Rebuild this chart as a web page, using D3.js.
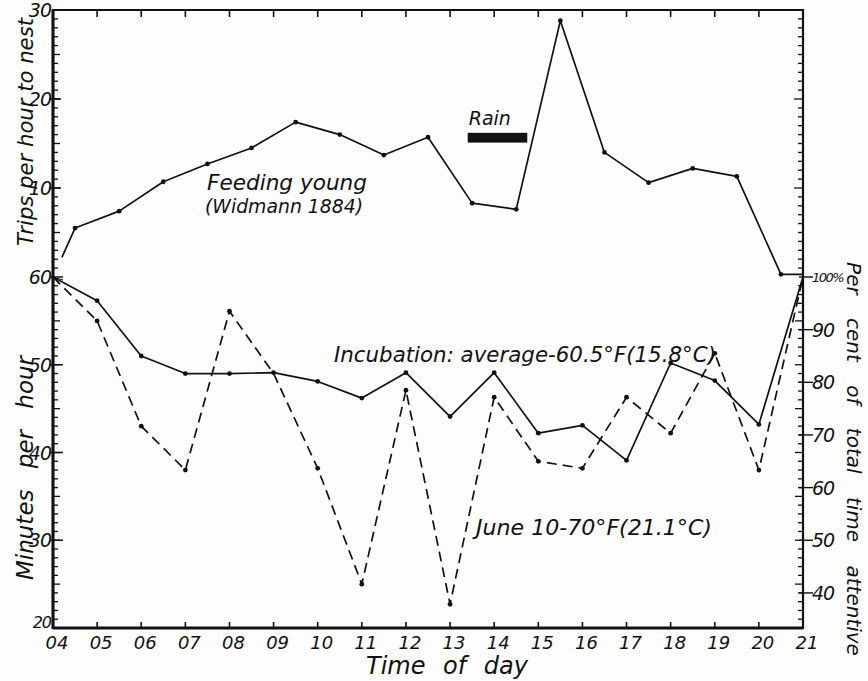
<!DOCTYPE html>
<html>
<head>
<meta charset="utf-8">
<script src="https://cdn.jsdelivr.net/npm/d3@7"></script>
<style>
  html, body { margin: 0; padding: 0; background: #fdfdfd; }
  svg { display: block; }
  text { font-family: "DejaVu Sans", sans-serif; font-style: italic; fill: #111; }
</style>
</head>
<body>
<svg id="chart" width="868" height="681"></svg>
<script>
// Hour of day for the x axis
const hourTicks = [4,5,6,7,8,9,10,11,12,13,14,15,16,17,18,19,20,21];
const hourLabels = ["04","05","06","07","08","09","10","11","12","13","14","15","16","17","18","19","20","21"];

// Feeding young (Widmann 1884): trips per hour, at half-hour midpoints
const feedHours = [4.2, 4.5, 5.5, 6.5, 7.5, 8.5, 9.5, 10.5, 11.5, 12.5, 13.5, 14.5, 15.5, 16.5, 17.5, 18.5, 19.5, 20.5, 21];
const feedTrips = [2.2, 5.5, 7.4, 10.7, 12.7, 14.5, 17.4, 16.0, 13.7, 15.7, 8.3, 7.6, 28.8, 14.0, 10.6, 12.2, 11.3, 0.3, 0.3];
const feedDot   = [false, true, true, true, true, true, true, true, true, true, true, true, true, true, true, true, true, true, false];

// Incubation: minutes per hour on the nest
const incHours   = [4,5,6,7,8,9,10,11,12,13,14,15,16,17,18,19,20,21];
const incAverage = [60, 57.3, 51.0, 49.0, 49.0, 49.1, 48.1, 46.2, 49.1, 44.1, 49.1, 42.2, 43.1, 39.1, 50.2, 48.2, 43.2, 60];
const incJune10  = [60, 55.0, 43.0, 38.0, 56.1, 49.0, 38.2, 25.0, 47.1, 22.7, 46.3, 39.0, 38.2, 46.3, 42.2, 51.3, 38.0, 60];

// Axis tick values
const tripTicks = [10, 20, 30];
const minuteTicks = [20, 30, 40, 50, 60];
const pctTicks = [40, 50, 60, 70, 80, 90, 100];
const pctLabels = ["40", "50", "60", "70", "80", "90", "100%"];

// Rain period (hours)
const rainSpan = [13.4, 14.75];

const svg = d3.select("#chart");
const L = 53, R = 803, T = 10, B = 628, MID = 277;

const x = d3.scaleLinear().domain([4, 21]).range([L, R]);
const yTrips = d3.scaleLinear().domain([0, 30]).range([MID, T]);
const yMin = d3.scaleLinear().domain([20, 60]).range([B, MID]);
const yPct = d3.scaleLinear().domain([100 / 3, 100]).range([B, MID]);

const ink = "#111";

// ---- Minor ticks ----
const g = svg.append("g").attr("stroke", ink).attr("fill", "none");

// top edge: hourly ticks pointing down
g.selectAll(".tt").data(hourTicks.slice(1, -1)).join("line")
  .attr("x1", d => x(d)).attr("x2", d => x(d)).attr("y1", T).attr("y2", T + 7).attr("stroke-width", 1.6);
// bottom edge: hourly ticks pointing up
g.selectAll(".bt").data(hourTicks.slice(1, -1)).join("line")
  .attr("x1", d => x(d)).attr("x2", d => x(d)).attr("y1", B).attr("y2", B - 6).attr("stroke-width", 1.6);

// trip ticks (upper panel), both side edges
const tripMinor = d3.range(1, 30);
g.selectAll(".lt").data(tripMinor).join("line")
  .attr("x1", L).attr("x2", d => L + (d % 5 === 0 ? 7 : 5))
  .attr("y1", d => yTrips(d)).attr("y2", d => yTrips(d)).attr("stroke-width", 1.3);
g.selectAll(".rt").data(tripMinor).join("line")
  .attr("x1", R).attr("x2", d => R - (d % 10 === 0 ? 9 : 5))
  .attr("y1", d => yTrips(d)).attr("y2", d => yTrips(d)).attr("stroke-width", 1.3);

// minute ticks (lower panel), both side edges
const minMinor = d3.range(21, 60);
g.selectAll(".lm").data(minMinor).join("line")
  .attr("x1", L).attr("x2", d => L + (d % 5 === 0 ? 7 : 5))
  .attr("y1", d => yMin(d)).attr("y2", d => yMin(d)).attr("stroke-width", 1.3);
g.selectAll(".rm").data(minMinor).join("line")
  .attr("x1", R).attr("x2", d => R - (d % 5 === 0 ? 8 : 5))
  .attr("y1", d => yMin(d)).attr("y2", d => yMin(d)).attr("stroke-width", 1.3);

// labelled ticks: outward stubs
g.selectAll(".ltm").data(tripTicks.slice(0, 2)).join("line")
  .attr("x1", L - 4).attr("x2", L + 8).attr("y1", d => yTrips(d)).attr("y2", d => yTrips(d)).attr("stroke-width", 1.5);
g.selectAll(".lmm").data(minuteTicks.slice(1)).join("line")
  .attr("x1", L - 3).attr("x2", L + 10).attr("y1", d => yMin(d)).attr("y2", d => yMin(d)).attr("stroke-width", 1.5);
g.selectAll(".rpm").data(pctTicks).join("line")
  .attr("x1", R - 4).attr("x2", R + 10).attr("y1", d => yPct(d)).attr("y2", d => yPct(d)).attr("stroke-width", 1.4);

// ---- Frame ----
svg.append("path")
  .attr("d", `M${L},${T}H${R}V${B}H${L}Z`)
  .attr("fill", "none").attr("stroke", ink).attr("stroke-width", 2.2);
svg.append("line").attr("x1", L).attr("x2", L).attr("y1", T).attr("y2", B + 1)
  .attr("stroke", ink).attr("stroke-width", 3);
svg.append("line").attr("x1", L).attr("x2", R).attr("y1", B).attr("y2", B)
  .attr("stroke", ink).attr("stroke-width", 3);

// ---- Lines ----
const feedPts = feedHours.map((h, i) => ({ h, v: feedTrips[i], dot: feedDot[i] }));
const avgPts = incHours.map((h, i) => ({ h, v: incAverage[i], dot: i > 0 && i < incHours.length - 1 }));
const junePts = incHours.map((h, i) => ({ h, v: incJune10[i], dot: i > 0 && i < incHours.length - 1 && h !== 9 }));

const lineTrips = d3.line().x(d => x(d.h)).y(d => yTrips(d.v));
const lineMin = d3.line().x(d => x(d.h)).y(d => yMin(d.v));

svg.append("path").datum(feedPts).attr("d", lineTrips)
  .attr("fill", "none").attr("stroke", ink).attr("stroke-width", 1.7).attr("stroke-linejoin", "round");
svg.append("path").datum(junePts).attr("d", lineMin)
  .attr("fill", "none").attr("stroke", ink).attr("stroke-width", 1.7).attr("stroke-dasharray", "10,6");
svg.append("path").datum(avgPts).attr("d", lineMin)
  .attr("fill", "none").attr("stroke", ink).attr("stroke-width", 1.7).attr("stroke-linejoin", "round");

svg.append("g").selectAll("circle").data(feedPts.filter(d => d.dot)).join("circle")
  .attr("cx", d => x(d.h)).attr("cy", d => yTrips(d.v)).attr("r", 2.4).attr("fill", ink);
svg.append("g").selectAll("circle").data(avgPts.filter(d => d.dot)).join("circle")
  .attr("cx", d => x(d.h)).attr("cy", d => yMin(d.v)).attr("r", 2.4).attr("fill", ink);
svg.append("g").selectAll("circle").data(junePts.filter(d => d.dot)).join("circle")
  .attr("cx", d => x(d.h)).attr("cy", d => yMin(d.v)).attr("r", 2.4).attr("fill", ink);

// small arrowhead where both incubation curves start at 60
svg.append("path")
  .attr("d", `M${x(4) + 2},${yMin(60) + 1}l8,2M${x(4) + 2},${yMin(60) + 1}l4,6`)
  .attr("fill", "none").attr("stroke", ink).attr("stroke-width", 1.2);

// Rain bar
svg.append("rect")
  .attr("x", x(rainSpan[0])).attr("width", x(rainSpan[1]) - x(rainSpan[0]))
  .attr("y", yTrips(16.2)).attr("height", yTrips(15.1) - yTrips(16.2))
  .attr("fill", "#111");
svg.append("text").attr("x", x(rainSpan[0]) + 1).attr("y", 125)
  .attr("font-size", 19).text("Rain");

// ---- Tick labels ----
const fs = 19;
svg.append("g").selectAll("text").data(hourTicks).join("text")
  .attr("x", d => x(d) + 4).attr("y", 649).attr("text-anchor", "middle")
  .attr("font-size", 18).text((d, i) => hourLabels[i]);

svg.append("g").selectAll("text").data(tripTicks).join("text")
  .attr("x", L - 2).attr("y", d => yTrips(d) + 7).attr("text-anchor", "end")
  .attr("font-size", fs).attr("letter-spacing", -1).text(d => d);

svg.append("g").selectAll("text").data(minuteTicks).join("text")
  .attr("x", L - 2).attr("y", d => yMin(d) + (d === 20 ? 0 : 7)).attr("text-anchor", "end")
  .attr("font-size", d => d === 20 ? 16 : fs).attr("letter-spacing", -1).text(d => d);

svg.append("g").selectAll("text").data(pctTicks).join("text")
  .attr("x", R + 9).attr("y", d => yPct(d) + (d === 100 ? 5 : 7))
  .attr("font-size", d => d === 100 ? 13 : fs).attr("letter-spacing", d => d === 100 ? -1.5 : -1)
  .text((d, i) => pctLabels[i]);

// ---- Axis titles ----
svg.append("text").attr("transform", "translate(33,132) rotate(-90)")
  .attr("text-anchor", "middle").attr("font-size", 22)
  .attr("textLength", 228).attr("lengthAdjust", "spacingAndGlyphs")
  .text("Trips per hour to nest");
svg.append("text").attr("transform", "translate(33,468) rotate(-90)")
  .attr("text-anchor", "middle").attr("font-size", 23)
  .style("word-spacing", "14px")
  .text("Minutes per hour");
svg.append("text").attr("transform", "translate(847,459) rotate(90)")
  .attr("text-anchor", "middle").attr("font-size", 20)
  .style("word-spacing", "17px")
  .text("Per cent of total time attentive");
svg.append("text").attr("x", 447).attr("y", 674)
  .attr("text-anchor", "middle").attr("font-size", 24)
  .style("word-spacing", "10px")
  .text("Time of day");

// ---- Series labels ----
svg.append("text").attr("x", 207).attr("y", 190).attr("font-size", 22)
  .attr("textLength", 160).attr("lengthAdjust", "spacingAndGlyphs").text("Feeding young");
svg.append("text").attr("x", 205).attr("y", 213).attr("font-size", 20)
  .attr("textLength", 158).attr("lengthAdjust", "spacingAndGlyphs").text("(Widmann 1884)");
svg.append("text").attr("x", 334).attr("y", 362).attr("font-size", 21)
  .attr("textLength", 382).attr("lengthAdjust", "spacingAndGlyphs")
  .text("Incubation: average-60.5°F(15.8°C)");
svg.append("text").attr("x", 476).attr("y", 535).attr("font-size", 21)
  .attr("textLength", 236).attr("lengthAdjust", "spacingAndGlyphs")
  .text("June 10-70°F(21.1°C)");
</script>
</body>
</html>
